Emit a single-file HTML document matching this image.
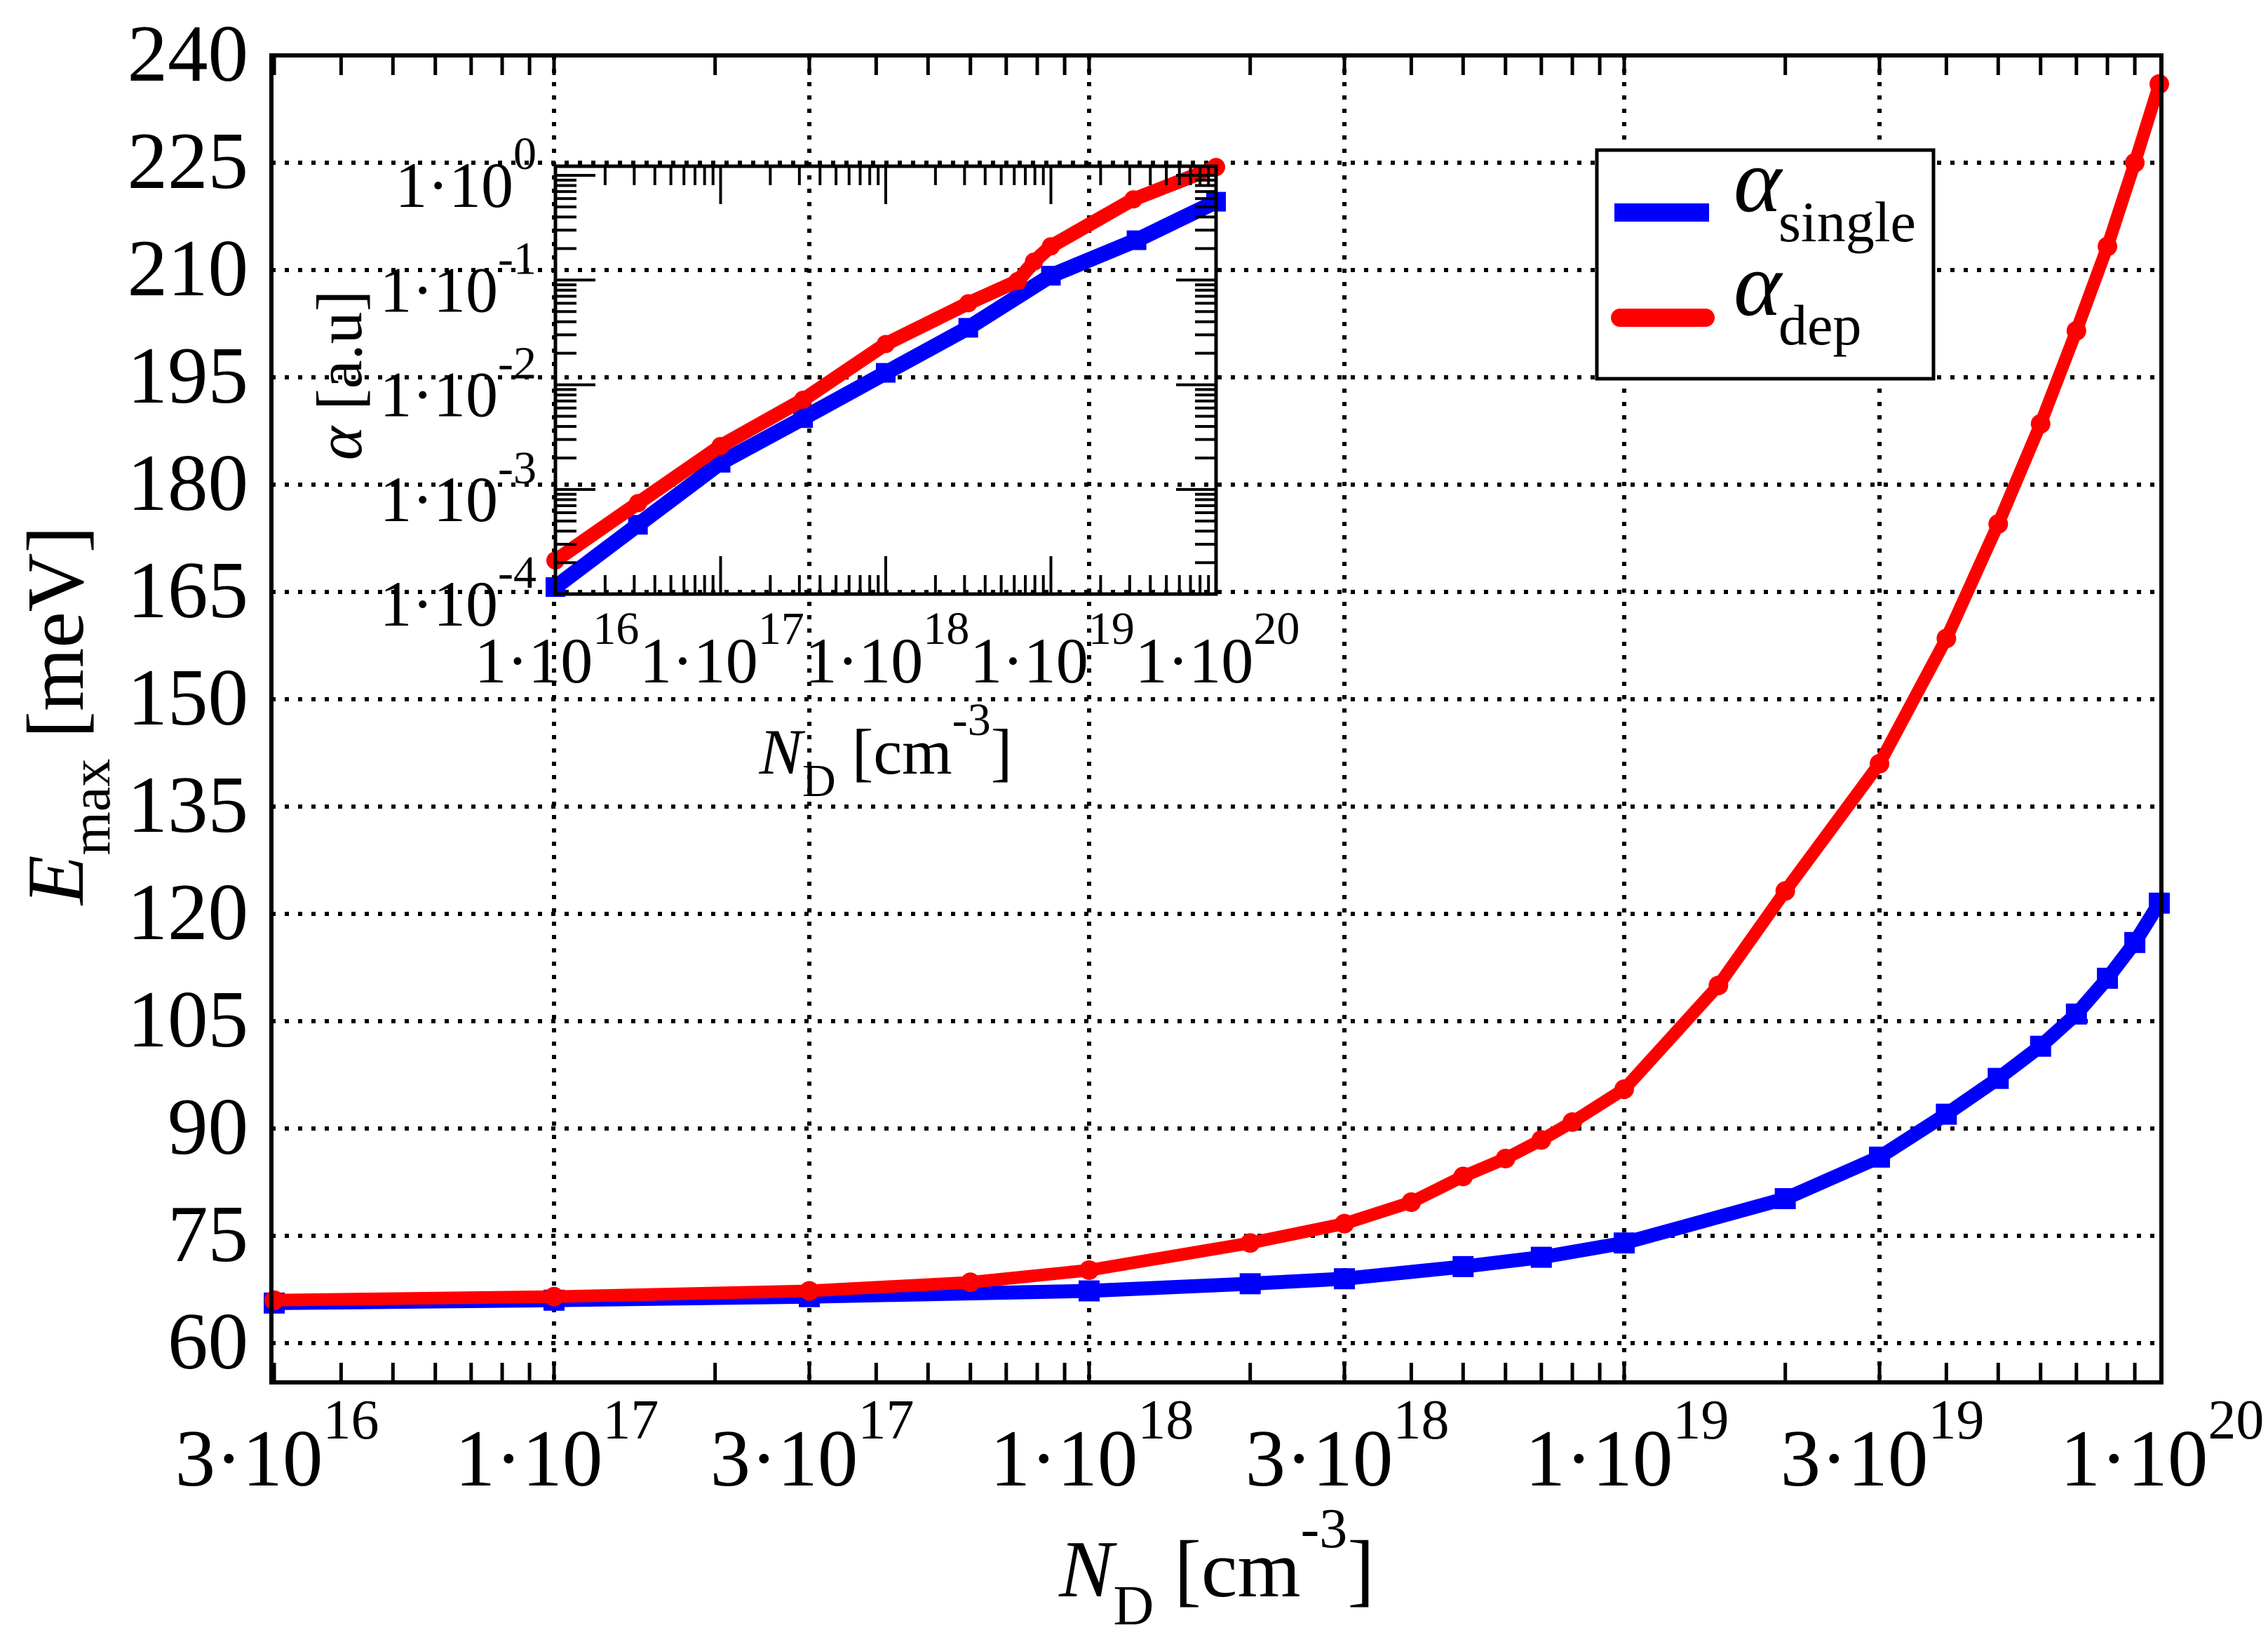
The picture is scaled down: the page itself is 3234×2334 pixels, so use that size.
<!DOCTYPE html>
<html><head><meta charset="utf-8"><title>Emax vs ND</title>
<style>
html,body{margin:0;padding:0;background:#fff;}
svg{display:block;font-family:"Liberation Serif","DejaVu Serif",serif;}
</style></head>
<body>
<svg id="chart" width="3234" height="2334" viewBox="0 0 3234 2334" xmlns="http://www.w3.org/2000/svg">
<rect x="0" y="0" width="3234" height="2334" fill="#fff"/>
<g id="grid"></g>
<g id="inset"></g>
<g id="main"></g>
<g id="axes"></g>
<text transform="translate(118,1020) rotate(-90)" text-anchor="middle" font-size="116"><tspan font-style="italic">E</tspan><tspan font-size="80" dy="38">max</tspan><tspan dy="-38"> [meV]</tspan></text>
<text x="1735" y="2276" text-anchor="middle" font-size="116"><tspan font-style="italic">N</tspan><tspan font-size="80" dy="40">D</tspan><tspan dy="-40"> [cm</tspan><tspan font-size="80" dy="-70">-3</tspan><tspan dy="70">]</tspan></text>
<g>
<rect x="2277" y="214" width="480" height="326" fill="#fff" stroke="#000" stroke-width="5"/>
<g>
<line x1="2302" y1="303" x2="2437" y2="303" stroke="#0000ff" stroke-width="26"/>
<text x="2472" y="301" font-size="130" font-style="italic">α</text>
<text x="2536" y="344" font-size="82">single</text>
</g>
<g>
<line x1="2310" y1="453" x2="2432" y2="453" stroke="#ff0000" stroke-width="26" stroke-linecap="round"/>
<text x="2472" y="449" font-size="130" font-style="italic">α</text>
<text x="2536" y="491" font-size="82">dep</text>
</g>
</g>
</svg>
<script>
// ===== main chart data =====
const mainXTicks = [3e16, 1e17, 3e17, 1e18, 3e18, 1e19, 3e19, 1e20];
const mainXTickMant = ["3", "1", "3", "1", "3", "1", "3", "1"];
const mainXTickExp = ["16", "17", "17", "18", "18", "19", "19", "20"];
const mainYTicks = [60, 75, 90, 105, 120, 135, 150, 165, 180, 195, 210, 225, 240];
const singleN = [3e16, 1e17, 3e17, 1e18, 2e18, 3e18, 5e18, 7e18, 1e19, 2e19, 3e19, 4e19, 5e19, 6e19, 7e19, 8e19, 9e19, 1e20];
const singleE = [65.6, 66, 66.5, 67.3, 68.3, 69, 70.7, 72, 74, 80.2, 86, 92, 97, 101.5, 106, 111, 116, 121.5];
const depN = [3e16, 1e17, 3e17, 6e17, 1e18, 2e18, 3e18, 4e18, 5e18, 6e18, 7e18, 8e18, 1e19, 1.5e19, 2e19, 3e19, 4e19, 5e19, 6e19, 7e19, 8e19, 9e19, 1e20];
const depE = [66, 66.5, 67.3, 68.5, 70.2, 74, 76.7, 79.7, 83.3, 85.8, 88.4, 90.9, 95.5, 110, 123.2, 141, 158.5, 174.5, 188.5, 201.5, 213.3, 225, 236];
// ===== inset data =====
const insetXTicks = [1e16, 1e17, 1e18, 1e19, 1e20];
const insetXExp = ["16", "17", "18", "19", "20"];
const insetYTicks = [1, 1e-1, 1e-2, 1e-3, 1e-4];
const insetYExp = ["0", "-1", "-2", "-3", "-4"];
const insetSingleN = [1e16, 3.16e16, 1e17, 3.16e17, 1e18, 3.16e18, 1e19, 3.3e19, 1e20];
const insetSingleA = [1.17e-4, 4.6e-4, 1.8e-3, 4.8e-3, 1.3e-2, 3.5e-2, 1.1e-1, 2.4e-1, 5.6e-1];
const insetDepN = [1e16, 3.16e16, 1e17, 3.16e17, 1e18, 3.16e18, 6.3e18, 7.9e18, 1e19, 3.16e19, 1e20];
const insetDepA = [2.1e-4, 7.4e-4, 2.6e-3, 7.2e-3, 2.45e-2, 6.0e-2, 9.8e-2, 1.5e-1, 2.1e-1, 5.9e-1, 1.2];

const NS = "http://www.w3.org/2000/svg";
function mk(tag, attrs, parent) {
  const e = document.createElementNS(NS, tag);
  for (const k in attrs) e.setAttribute(k, attrs[k]);
  parent.appendChild(e);
  return e;
}
const PL = 387, PR = 3082, PT = 79, PB = 1971;
function mx(n) { return 790 + (Math.log10(n) - 17) * 763; }
function my(v) { return 79 + (240 - v) * 10.2; }
const IL = 792, IR = 1734, IT = 237, IB = 847;
function ix(n) { return 792 + (Math.log10(n) - 16) * 235.5; }
function iy(a) { return 250 - Math.log10(a) * 149.3; }

const grid = document.getElementById('grid');
const axes = document.getElementById('axes');
const mainG = document.getElementById('main');
const inset = document.getElementById('inset');

mainYTicks.forEach(v => {
  if (v >= 240) return;
  const l = mk('line', {x1: PL, x2: PR, y1: my(v), y2: my(v), stroke: '#000', 'stroke-width': 6, 'stroke-dasharray': '6 13'}, grid);
  
  
});
mainXTicks.forEach(n => {
  const x = mx(n);
  if (x < PL + 5 || x > PR - 5) return;
  const l = mk('line', {x1: x, x2: x, y1: PT, y2: PB, stroke: '#000', 'stroke-width': 6, 'stroke-dasharray': '6 13'}, grid);
  
  
});

function series(nArr, vArr, color, fx, fy, name, sw, ms, round) {
  const g = mk('g', {}, fx === mx ? mainG : inset);
  
  
  const pts = nArr.map((n, i) => fx(n).toFixed(1) + ',' + fy(vArr[i]).toFixed(1)).join(' ');
  mk('polyline', {points: pts, fill: 'none', stroke: color, 'stroke-width': sw, 'stroke-linejoin': 'round'}, g);
  nArr.forEach((n, i) => {
    let m;
    if (round) m = mk('circle', {cx: fx(n), cy: fy(vArr[i]), r: ms / 2, fill: color}, g);
    else m = mk('rect', {x: fx(n) - ms / 2, y: fy(vArr[i]) - ms / 2, width: ms, height: ms, fill: color}, g);
    
    
  });
}
series(singleN, singleE, '#0000ff', mx, my, 'series-alpha-single', 20, 30, false);
series(depN, depE, '#ff0000', mx, my, 'series-alpha-dep', 18, 28, true);

const fr = mk('rect', {x: PL, y: PT, width: PR - PL, height: PB - PT, fill: 'none', stroke: '#000', 'stroke-width': 6}, axes);


for (let d = 16; d <= 19; d++) {
  for (let k = 1; k <= 9; k++) {
    const n = k * Math.pow(10, d);
    const x = mx(n);
    if (x < PL + 3 || x > PR - 3) continue;
    const t1 = mk('line', {x1: x, x2: x, y1: PB, y2: PB - 28, stroke: '#000', 'stroke-width': 5}, axes);
    
    
    const t2 = mk('line', {x1: x, x2: x, y1: PT, y2: PT + 28, stroke: '#000', 'stroke-width': 5}, axes);
    
    
  }
}
mainYTicks.forEach(v => {
  const t = mk('text', {x: 354, y: my(v) + 36, 'text-anchor': 'end', 'font-size': 115}, axes);
  t.textContent = String(v);
  
  
});
mainXTicks.forEach((n, i) => {
  const t = mk('text', {x: mx(n) + 4, y: 2118, 'text-anchor': 'middle', 'font-size': 115}, axes);
  
  
  const a = mk('tspan', {}, t); a.textContent = mainXTickMant[i] + '·10';
  const b = mk('tspan', {'font-size': 80, dy: -67}, t); b.textContent = mainXTickExp[i];
});

series(insetSingleN, insetSingleA, '#0000ff', ix, iy, 'inset-series-single', 22, 28, false);
series(insetDepN, insetDepA, '#ff0000', ix, iy, 'inset-series-dep', 20, 26, true);
const ifr = mk('rect', {x: IL, y: IT, width: IR - IL, height: IB - IT, fill: 'none', stroke: '#000', 'stroke-width': 5}, inset);


for (let d = 16; d <= 19; d++) {
  for (let k = 1; k <= 9; k++) {
    const x = ix(k * Math.pow(10, d));
    if (x < IL + 3 || x > IR - 3) continue;
    const len = k === 1 ? 54 : 27;
    const a = mk('line', {x1: x, x2: x, y1: IB, y2: IB - len, stroke: '#000', 'stroke-width': 4}, inset);
    
    
    const b = mk('line', {x1: x, x2: x, y1: IT, y2: IT + len, stroke: '#000', 'stroke-width': 4}, inset);
    
    
  }
}
for (let d = -4; d <= 0; d++) {
  for (let k = 1; k <= 9; k++) {
    const y = iy(k * Math.pow(10, d));
    if (y < IT + 2 || y > IB - 2) continue;
    const len = k === 1 ? 57 : 30;
    const a = mk('line', {x1: IL, x2: IL + len, y1: y, y2: y, stroke: '#000', 'stroke-width': 4}, inset);
    
    
    const b = mk('line', {x1: IR, x2: IR - len, y1: y, y2: y, stroke: '#000', 'stroke-width': 4}, inset);
    
    
  }
}
insetYTicks.forEach((a, i) => {
  const t = mk('text', {x: 765, y: iy(a) + 45, 'text-anchor': 'end', 'font-size': 92}, inset);
  
  
  const p = mk('tspan', {}, t); p.textContent = '1·10';
  const q = mk('tspan', {'font-size': 66, dy: -54}, t); q.textContent = insetYExp[i];
});
insetXTicks.forEach((n, i) => {
  const t = mk('text', {x: ix(n) + 2, y: 973, 'text-anchor': 'middle', 'font-size': 92}, inset);
  
  
  const p = mk('tspan', {}, t); p.textContent = '1·10';
  const q = mk('tspan', {'font-size': 66, dy: -55}, t); q.textContent = insetXExp[i];
});
const ixt = mk('text', {x: 1263, y: 1103, 'text-anchor': 'middle', 'font-size': 92}, inset);


ixt.innerHTML = '<tspan font-style="italic">N</tspan><tspan font-size="66" dy="32">D</tspan><tspan dy="-32"> [cm</tspan><tspan font-size="66" dy="-55">-3</tspan><tspan dy="55">]</tspan>';
const iyt = mk('text', {transform: 'translate(515,535) rotate(-90)', 'text-anchor': 'middle', 'font-size': 92}, inset);


iyt.innerHTML = '<tspan font-style="italic">α</tspan> [a.u]';
</script>
</body></html>
